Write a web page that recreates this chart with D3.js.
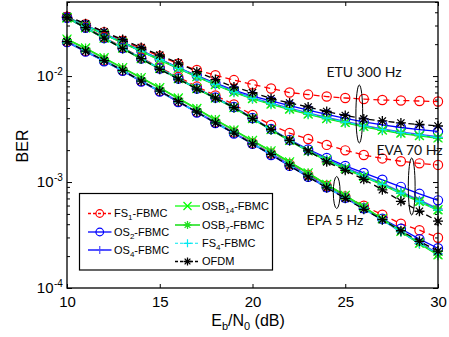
<!DOCTYPE html>
<html><head><meta charset="utf-8">
<script src="https://cdn.jsdelivr.net/npm/d3@7"></script>
<style>body{margin:0;background:#fff}svg{display:block}</style>
</head><body>
<script>
// ---------- data ----------
const snr = [10,11,12,13,14,15,16,17,18,19,20,21,22,23,24,25,26,27,28,29,30];
const xTickValues = [10,15,20,25,30];
const yTickValues = [1e-4,1e-3,1e-2];
const yTickExponents = ["-4","-3","-2"];

// ETU 300 Hz
const ETU_FS1  = [3.63e-2,3.09e-2,2.60e-2,2.16e-2,1.82e-2,1.54e-2,1.31e-2,1.14e-2,1.02e-2,9.17e-3,8.32e-3,7.63e-3,6.99e-3,6.69e-3,6.41e-3,6.21e-3,6.07e-3,5.94e-3,5.88e-3,5.82e-3,5.75e-3];
const ETU_OS2  = [3.59e-2,3.02e-2,2.51e-2,2.09e-2,1.74e-2,1.45e-2,1.20e-2,1.01e-2,8.59e-3,7.38e-3,6.48e-3,5.82e-3,5.27e-3,4.78e-3,4.34e-3,3.98e-3,3.69e-3,3.46e-3,3.27e-3,3.13e-3,3.00e-3];
const ETU_OS4  = [3.56e-2,3.00e-2,2.50e-2,2.08e-2,1.73e-2,1.44e-2,1.19e-2,9.95e-3,8.40e-3,7.15e-3,6.22e-3,5.52e-3,4.96e-3,4.46e-3,4.05e-3,3.71e-3,3.41e-3,3.16e-3,2.96e-3,2.80e-3,2.66e-3];
const ETU_OSB14= [3.55e-2,2.99e-2,2.49e-2,2.07e-2,1.72e-2,1.43e-2,1.19e-2,9.89e-3,8.32e-3,7.07e-3,6.14e-3,5.45e-3,4.89e-3,4.39e-3,3.98e-3,3.65e-3,3.35e-3,3.10e-3,2.90e-3,2.75e-3,2.61e-3];
const ETU_OSB7 = [3.55e-2,2.98e-2,2.48e-2,2.06e-2,1.71e-2,1.42e-2,1.18e-2,9.85e-3,8.28e-3,7.03e-3,6.10e-3,5.41e-3,4.85e-3,4.36e-3,3.95e-3,3.62e-3,3.33e-3,3.08e-3,2.88e-3,2.73e-3,2.59e-3];
const ETU_FS4  = [3.56e-2,2.99e-2,2.49e-2,2.07e-2,1.72e-2,1.43e-2,1.19e-2,9.92e-3,8.35e-3,7.10e-3,6.17e-3,5.48e-3,4.92e-3,4.42e-3,4.01e-3,3.68e-3,3.38e-3,3.13e-3,2.93e-3,2.78e-3,2.63e-3];
const ETU_OFDM = [3.67e-2,3.12e-2,2.62e-2,2.21e-2,1.86e-2,1.58e-2,1.33e-2,1.10e-2,9.27e-3,7.88e-3,6.99e-3,6.14e-3,5.57e-3,5.11e-3,4.63e-3,4.25e-3,3.94e-3,3.77e-3,3.61e-3,3.49e-3,3.38e-3];

// EVA 70 Hz
const EVA_FS1  = [3.59e-2,2.89e-2,2.33e-2,1.86e-2,1.49e-2,1.20e-2,9.79e-3,7.96e-3,6.55e-3,5.39e-3,4.29e-3,3.46e-3,2.90e-3,2.55e-3,2.24e-3,1.99e-3,1.80e-3,1.67e-3,1.57e-3,1.50e-3,1.45e-3];
const EVA_OS2  = [3.55e-2,2.86e-2,2.28e-2,1.84e-2,1.46e-2,1.18e-2,9.47e-3,7.63e-3,6.27e-3,5.11e-3,4.02e-3,3.17e-3,2.50e-3,2.03e-3,1.69e-3,1.42e-3,1.22e-3,1.05e-3,9.01e-4,7.74e-4,6.72e-4];
const EVA_OS4  = [3.55e-2,2.86e-2,2.28e-2,1.84e-2,1.46e-2,1.18e-2,9.47e-3,7.63e-3,6.23e-3,5.07e-3,4.00e-3,3.15e-3,2.48e-3,1.99e-3,1.64e-3,1.37e-3,1.15e-3,9.65e-4,8.05e-4,6.70e-4,5.58e-4];
const EVA_OSB14= [3.55e-2,2.86e-2,2.28e-2,1.84e-2,1.46e-2,1.18e-2,9.47e-3,7.63e-3,6.21e-3,5.05e-3,3.98e-3,3.13e-3,2.47e-3,1.97e-3,1.62e-3,1.35e-3,1.13e-3,9.51e-4,7.91e-4,6.58e-4,5.47e-4];
const EVA_OSB7 = [3.54e-2,2.85e-2,2.27e-2,1.83e-2,1.45e-2,1.17e-2,9.42e-3,7.58e-3,6.17e-3,5.02e-3,3.95e-3,3.11e-3,2.45e-3,1.95e-3,1.60e-3,1.33e-3,1.12e-3,9.40e-4,7.80e-4,6.50e-4,5.40e-4];
const EVA_FS4  = [3.55e-2,2.86e-2,2.28e-2,1.84e-2,1.46e-2,1.18e-2,9.45e-3,7.60e-3,6.19e-3,5.04e-3,3.97e-3,3.12e-3,2.46e-3,1.96e-3,1.61e-3,1.34e-3,1.13e-3,9.45e-4,7.86e-4,6.54e-4,5.43e-4];
const EVA_OFDM = [3.55e-2,2.86e-2,2.28e-2,1.82e-2,1.46e-2,1.16e-2,9.37e-3,7.55e-3,6.21e-3,5.05e-3,3.98e-3,3.13e-3,2.47e-3,1.97e-3,1.55e-3,1.29e-3,1.06e-3,8.45e-4,6.58e-4,5.30e-4,4.27e-4];

// EPA 5 Hz
const EPA_FS1  = [2.11e-2,1.72e-2,1.40e-2,1.13e-2,8.97e-3,7.22e-3,5.75e-3,4.58e-3,3.65e-3,2.94e-3,2.34e-3,1.86e-3,1.47e-3,1.17e-3,9.21e-4,7.33e-4,5.97e-4,4.91e-4,4.04e-4,3.51e-4,2.98e-4];
const EPA_OS2  = [2.09e-2,1.70e-2,1.38e-2,1.12e-2,8.88e-3,7.14e-3,5.69e-3,4.53e-3,3.61e-3,2.87e-3,2.29e-3,1.80e-3,1.42e-3,1.12e-3,8.91e-4,7.10e-4,5.65e-4,4.50e-4,3.62e-4,2.89e-4,2.37e-4];
const EPA_OS4  = [2.11e-2,1.72e-2,1.40e-2,1.13e-2,8.97e-3,7.22e-3,5.75e-3,4.58e-3,3.65e-3,2.90e-3,2.31e-3,1.84e-3,1.45e-3,1.14e-3,9.01e-4,7.10e-4,5.59e-4,4.41e-4,3.40e-4,2.65e-4,2.11e-4];
const EPA_OSB14= [2.23e-2,1.84e-2,1.49e-2,1.20e-2,9.68e-3,7.79e-3,6.21e-3,4.94e-3,3.89e-3,3.10e-3,2.47e-3,1.97e-3,1.55e-3,1.22e-3,9.51e-4,7.49e-4,5.84e-4,4.50e-4,3.43e-4,2.65e-4,2.06e-4];
const EPA_OSB7 = [2.21e-2,1.82e-2,1.47e-2,1.19e-2,9.58e-3,7.70e-3,6.14e-3,4.88e-3,3.85e-3,3.07e-3,2.44e-3,1.95e-3,1.53e-3,1.21e-3,9.42e-4,7.42e-4,5.78e-4,4.46e-4,3.40e-4,2.62e-4,2.04e-4];
const EPA_FS4  = [2.10e-2,1.71e-2,1.39e-2,1.12e-2,8.92e-3,7.18e-3,5.72e-3,4.56e-3,3.63e-3,2.89e-3,2.30e-3,1.83e-3,1.44e-3,1.13e-3,8.95e-4,7.05e-4,5.55e-4,4.38e-4,3.38e-4,2.63e-4,2.09e-4];
const EPA_OFDM = [2.11e-2,1.72e-2,1.40e-2,1.13e-2,8.97e-3,7.22e-3,5.75e-3,4.58e-3,3.61e-3,2.90e-3,2.29e-3,1.82e-3,1.42e-3,1.12e-3,8.82e-4,7.02e-4,5.53e-4,4.41e-4,3.47e-4,2.76e-4,2.23e-4];

const seriesKeys = ["FS1","OS2","OS4","OSB14","OSB7","FS4","OFDM"];
const seriesLabels = [["FS","1","-FBMC"],["OS","2","-FBMC"],["OS","4","-FBMC"],["OSB","14","-FBMC"],["OSB","7","-FBMC"],["FS","4","-FBMC"],["OFDM","",""]];
const channelNames = ["ETU 300 Hz","EVA 70 Hz","EPA 5 Hz"];
const xLabelParts = ["E","b","/N","0"," (dB)"];
const yLabel = "BER";

// ---------- styles / layout ----------
const W = 449, H = 337;
const L = 67, R = 438, T = 2, B = 288;
const styles = {
  FS1:  {color:"#ff0000", dash:"6,4", marker:"o", width:1.3},
  OS2:  {color:"#0000ff", dash:null,  marker:"o", width:1.3},
  OS4:  {color:"#4b4bff", dash:null,  marker:"+", width:1.9},
  OSB14:{color:"#00ff00", dash:null,  marker:"x", width:1.2},
  OSB7: {color:"#22e022", dash:null,  marker:"*", width:1.6},
  FS4:  {color:"#00e8f0", dash:"5,3", marker:"+", width:1.1},
  OFDM: {color:"#000000", dash:"6,4", marker:"*", width:1.3}
};
const channelData = [
  {FS1:ETU_FS1,OS2:ETU_OS2,OS4:ETU_OS4,OSB14:ETU_OSB14,OSB7:ETU_OSB7,FS4:ETU_FS4,OFDM:ETU_OFDM},
  {FS1:EVA_FS1,OS2:EVA_OS2,OS4:EVA_OS4,OSB14:EVA_OSB14,OSB7:EVA_OSB7,FS4:EVA_FS4,OFDM:EVA_OFDM},
  {FS1:EPA_FS1,OS2:EPA_OS2,OS4:EPA_OS4,OSB14:EPA_OSB14,OSB7:EPA_OSB7,FS4:EPA_FS4,OFDM:EPA_OFDM}
];

const svg = d3.select("body").append("svg").attr("width",W).attr("height",H)
  .style("font-family","'Liberation Sans', Arial, sans-serif");

const x = d3.scaleLinear().domain([10,30]).range([L,R]);
const y = d3.scaleLog().domain([1e-4,0.05]).range([B,T]);

function markerPath(type, s){
  if(type==="+") return `M${-s},0H${s}M0,${-s}V${s}`;
  if(type==="x") return `M${-s},${-s}L${s},${s}M${-s},${s}L${s},${-s}`;
  if(type==="*"){ const d=s*0.72; return `M${-s},0H${s}M0,${-s}V${s}M${-d},${-d}L${d},${d}M${-d},${d}L${d},${-d}`; }
  return "";
}
function drawMarker(g, type, cx, cy, st, big){
  if(type==="o"){
    g.append("circle").attr("cx",cx).attr("cy",cy).attr("r",big?4.6:3.8)
      .attr("fill","none").attr("stroke",st.color).attr("stroke-width",1.2);
  } else {
    const s = type==="*" ? (big?5:4) : (big?4.5:4);
    g.append("path").attr("transform",`translate(${cx},${cy})`).attr("d",markerPath(type,s))
      .attr("fill","none").attr("stroke",st.color).attr("stroke-width",type==="*"?1.3:1.2);
  }
}

// ---------- axes ----------
const minorTicks = [];
[1e-4,1e-3,1e-2].forEach(dec=>{ for(let k=2;k<=9;k++){ const v=k*dec; if(v<=0.05) minorTicks.push(v);} });

const axG = svg.append("g");
axG.append("g").attr("transform",`translate(0,${B})`)
  .call(d3.axisBottom(x).tickValues(xTickValues).tickSize(-4).tickPadding(8).tickFormat(d3.format("d")));
axG.append("g").attr("transform",`translate(0,${T})`)
  .call(d3.axisTop(x).tickValues(xTickValues).tickSize(-4).tickFormat(""));
axG.append("g").attr("transform",`translate(${L},0)`)
  .call(d3.axisLeft(y).tickValues(yTickValues).tickSize(-5).tickFormat(""));
axG.append("g").attr("transform",`translate(${L},0)`)
  .call(d3.axisLeft(y).tickValues(minorTicks).tickSize(-3).tickFormat(""));
axG.append("g").attr("transform",`translate(${R},0)`)
  .call(d3.axisRight(y).tickValues(yTickValues).tickSize(-5).tickFormat(""));
axG.append("g").attr("transform",`translate(${R},0)`)
  .call(d3.axisRight(y).tickValues(minorTicks).tickSize(-3).tickFormat(""));
axG.selectAll(".domain").remove();
axG.selectAll(".tick line").attr("stroke","#000").attr("stroke-width",1);
axG.selectAll(".tick text").attr("font-size",15).attr("fill","#000")
  .attr("font-family","'Liberation Sans', Arial, sans-serif");

// y tick labels 10^k
yTickValues.forEach((v,i)=>{
  const t = svg.append("text").attr("font-size",15).attr("fill","#000");
  t.append("tspan").attr("x",53.5).attr("y",y(v)+5.2).attr("text-anchor","end").text("10");
  svg.append("text").attr("font-size",10).attr("fill","#000")
    .attr("x",54).attr("y",y(v)-1).text(yTickExponents[i]);
});

// ---------- series ----------
const plotG = svg.append("g");
channelData.forEach(ch=>{
  seriesKeys.forEach(k=>{
    const st = styles[k];
    const pts = snr.map((s,i)=>[x(s), y(ch[k][i])]);
    plotG.append("path").attr("d",d3.line()(pts)).attr("fill","none")
      .attr("stroke",st.color).attr("stroke-width",st.width)
      .attr("stroke-dasharray",st.dash);
    const mg = plotG.append("g");
    pts.forEach(p=>drawMarker(mg, st.marker, p[0], p[1], st, true));
  });
});

// box
svg.append("rect").attr("x",L).attr("y",T).attr("width",R-L).attr("height",B-T)
  .attr("fill","none").attr("stroke","#000").attr("stroke-width",1.3);

// ---------- annotations ----------
const annFont = "Lato, 'Open Sans', sans-serif";
const annotations = [
  {text:channelNames[0], x:326.5, y:77, ex:359.3, ey:114, rx:3.4, ry:29},
  {text:channelNames[1], x:376.5, y:155, ex:411.7, ey:186.5, rx:3.4, ry:28.5},
  {text:channelNames[2], x:306.5, y:225, ex:336.7, ey:192.5, rx:3.4, ry:16}
];
annotations.forEach(a=>{
  svg.append("ellipse").attr("cx",a.ex).attr("cy",a.ey).attr("rx",a.rx).attr("ry",a.ry)
    .attr("fill","none").attr("stroke","#000").attr("stroke-width",1);
  svg.append("text").attr("x",a.x).attr("y",a.y).attr("font-family",annFont)
    .attr("font-size",14).attr("fill","#111").text(a.text);
});

// ---------- axis labels ----------
const xl = svg.append("text").attr("x",248).attr("y",326).attr("text-anchor","middle")
  .attr("font-size",16).attr("fill","#000");
xl.append("tspan").text(xLabelParts[0]);
xl.append("tspan").attr("font-size",11).attr("dy",4).text(xLabelParts[1]);
xl.append("tspan").attr("dy",-4).text(xLabelParts[2]);
xl.append("tspan").attr("font-size",11).attr("dy",4).text(xLabelParts[3]);
xl.append("tspan").attr("dy",-4).text(xLabelParts[4]);

svg.append("text").attr("transform","translate(28,146) rotate(-90)").attr("text-anchor","middle")
  .attr("font-size",16).attr("fill","#000").text(yLabel);

// ---------- legend ----------
const lg = svg.append("g");
lg.append("rect").attr("x",79.5).attr("y",193.5).attr("width",193).attr("height",76.5)
  .attr("fill","#fff").attr("stroke","#000").attr("stroke-width",1.2);
const legendPos = [
  {lx0:88, lx1:111.5, tx:114, ly:213.5},
  {lx0:88, lx1:111.5, tx:114, ly:232},
  {lx0:88, lx1:111.5, tx:114, ly:250},
  {lx0:175, lx1:200, tx:202, ly:206},
  {lx0:175, lx1:200, tx:202, ly:225},
  {lx0:175, lx1:200, tx:202, ly:243.3},
  {lx0:175, lx1:200, tx:202, ly:261.5}
];
seriesKeys.forEach((k,i)=>{
  const st = styles[k], p = legendPos[i];
  lg.append("line").attr("x1",p.lx0).attr("x2",p.lx1).attr("y1",p.ly).attr("y2",p.ly)
    .attr("stroke",st.color).attr("stroke-width",st.width).attr("stroke-dasharray",st.dash ? "3,2" : null);
  drawMarker(lg, st.marker, (p.lx0+p.lx1)/2, p.ly, st, false);
  const parts = seriesLabels[i];
  const t = lg.append("text").attr("x",p.tx).attr("y",p.ly+3.8).attr("font-size",11).attr("fill","#000");
  t.append("tspan").text(parts[0]);
  if(parts[1]){
    t.append("tspan").attr("font-size",8).attr("dy",3).text(parts[1]);
    t.append("tspan").attr("dy",-3).text(parts[2]);
  }
});
</script>
</body></html>
